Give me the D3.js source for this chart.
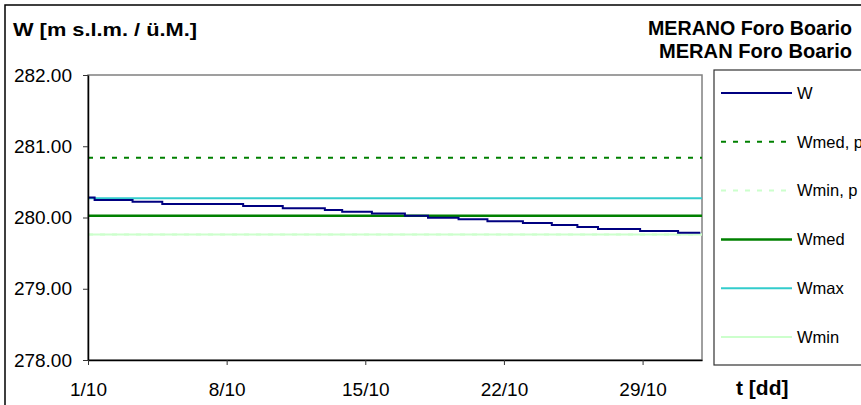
<!DOCTYPE html>
<html>
<head>
<meta charset="utf-8">
<script src="https://cdn.jsdelivr.net/npm/d3@7"></script>
<style>
  body { margin: 0; background: #fff; }
  svg { display: block; font-family: "Liberation Sans", Arial, sans-serif; }
</style>
</head>
<body>
<div id="vizcont"></div>
<script>
// water level W, step series
var wTimes = ["2010-10-01 00:00", "2010-10-01 08:00", "2010-10-03 06:00", "2010-10-04 18:00",
              "2010-10-08 20:00", "2010-10-10 20:00", "2010-10-12 23:00", "2010-10-13 20:00",
              "2010-10-15 08:00", "2010-10-17 00:00", "2010-10-18 04:00", "2010-10-19 17:00",
              "2010-10-21 04:00", "2010-10-22 23:00", "2010-10-24 10:00", "2010-10-25 17:00",
              "2010-10-26 18:00", "2010-10-28 21:00", "2010-10-30 19:00", "2010-10-31 22:00"];
var wValues = [280.28, 280.245, 280.22, 280.19,
               280.16, 280.13, 280.105, 280.08,
               280.055, 280.025, 279.997, 279.975,
               279.947, 279.923, 279.895, 279.867,
               279.84, 279.81, 279.787, 279.787];

// reference levels
var refNames  = ["Wmed, p", "Wmin, p", "Wmed", "Wmax", "Wmin"];
var refValues = [280.84, 279.76, 280.025, 280.27, 279.76];

var legendNames = ["W", "Wmed, p", "Wmin, p", "Wmed", "Wmax", "Wmin"];
var yTicks = [278, 279, 280, 281, 282];
var xTickDays = ["2010-10-01", "2010-10-08", "2010-10-15", "2010-10-22", "2010-10-29"];
var xDomain = ["2010-10-01 00:00", "2010-11-01 00:00"];

var styles = {
  "W":       {color: "#000080", width: 2,   dash: null},
  "Wmed, p": {color: "#008000", width: 2,   dash: "5,7"},
  "Wmin, p": {color: "#ccffcc", width: 2,   dash: "5,7"},
  "Wmed":    {color: "#008000", width: 2.5, dash: null},
  "Wmax":    {color: "#33cccc", width: 2,   dash: null},
  "Wmin":    {color: "#ccffcc", width: 2,   dash: null}
};

var parseT = d3.timeParse("%Y-%m-%d %H:%M");
var parseD = d3.timeParse("%Y-%m-%d");

var W = 861, H = 405;
var margin = {top: 75, right: 159, bottom: 45, left: 88};
var width = W - margin.left - margin.right;
var height = H - margin.top - margin.bottom;

var svg = d3.select("#vizcont").append("svg")
    .attr("width", W)
    .attr("height", H);

// outer frame
svg.append("rect")
    .attr("x", 5).attr("y", 5)
    .attr("width", 920).attr("height", 460)
    .attr("fill", "none").attr("stroke", "#000").attr("stroke-width", 1.5);

var g = svg.append("g")
    .attr("transform", "translate(" + margin.left + "," + margin.top + ")");

var x = d3.scaleTime()
    .domain(xDomain.map(parseT))
    .range([0, width]);
var y = d3.scaleLinear()
    .domain([278, 282])
    .range([height, 0]);

// plot area border
g.append("rect")
    .attr("width", width).attr("height", height)
    .attr("fill", "none").attr("stroke", "#808080").attr("stroke-width", 1.5);

// reference lines
refNames.forEach(function(n, i) {
  var s = styles[n];
  g.append("line")
      .attr("x1", 0).attr("x2", width)
      .attr("y1", y(refValues[i])).attr("y2", y(refValues[i]))
      .attr("stroke", s.color)
      .attr("stroke-width", s.width)
      .attr("stroke-dasharray", s.dash);
});

// W series
var wData = wTimes.map(function(t, i) { return {t: parseT(t), v: wValues[i]}; });
var line = d3.line()
    .x(function(d) { return x(d.t); })
    .y(function(d) { return y(d.v); })
    .curve(d3.curveStepAfter);
g.append("path")
    .datum(wData)
    .attr("d", line)
    .attr("fill", "none")
    .attr("stroke", styles["W"].color)
    .attr("stroke-width", styles["W"].width);

// axes
var yAxis = g.append("g")
    .call(d3.axisLeft(y).tickValues(yTicks).tickFormat(d3.format(".2f"))
      .tickSizeInner(5).tickSizeOuter(0).tickPadding(11));
var xAxis = g.append("g")
    .attr("transform", "translate(0," + height + ")")
    .call(d3.axisBottom(x).tickValues(xTickDays.map(parseD))
      .tickFormat(d3.timeFormat("%-d/%-m"))
      .tickSizeInner(5).tickSizeOuter(0).tickPadding(18));
[yAxis, xAxis].forEach(function(a) {
  a.select(".domain").attr("stroke", "#000").attr("stroke-width", 1.5);
  a.selectAll(".tick line").attr("stroke", "#333");
  a.selectAll("text").attr("font-size", 19).attr("fill", "#000")
      .attr("font-family", "Liberation Sans, Arial, sans-serif");
});

// texts
svg.append("text")
    .attr("x", 13).attr("y", 36)
    .attr("font-size", 18).attr("font-weight", "bold")
    .attr("textLength", 184).attr("lengthAdjust", "spacingAndGlyphs")
    .text("W [m s.l.m. / ü.M.]");
svg.append("text")
    .attr("x", 648).attr("y", 35)
    .attr("font-size", 21).attr("font-weight", "bold")
    .attr("textLength", 204).attr("lengthAdjust", "spacingAndGlyphs")
    .text("MERANO Foro Boario");
svg.append("text")
    .attr("x", 659).attr("y", 58)
    .attr("font-size", 21).attr("font-weight", "bold")
    .attr("textLength", 193).attr("lengthAdjust", "spacingAndGlyphs")
    .text("MERAN Foro Boario");
svg.append("text")
    .attr("x", 736).attr("y", 395)
    .attr("font-size", 21).attr("font-weight", "bold")
    .text("t [dd]");

// legend
var lg = svg.append("g").attr("transform", "translate(714,70)");
lg.append("rect")
    .attr("width", 200).attr("height", 295)
    .attr("fill", "#fff").attr("stroke", "#333").attr("stroke-width", 1.2);
var ly = d3.scalePoint().domain(legendNames).range([23, 267]);
legendNames.forEach(function(n) {
  var s = styles[n];
  lg.append("line")
      .attr("x1", 7).attr("x2", 78)
      .attr("y1", ly(n)).attr("y2", ly(n))
      .attr("stroke", s.color).attr("stroke-width", s.width)
      .attr("stroke-dasharray", s.dash);
  lg.append("text")
      .attr("x", 83).attr("y", ly(n)).attr("dy", "0.35em")
      .attr("font-size", 16.5)
      .text(n);
});
</script>
</body>
</html>
